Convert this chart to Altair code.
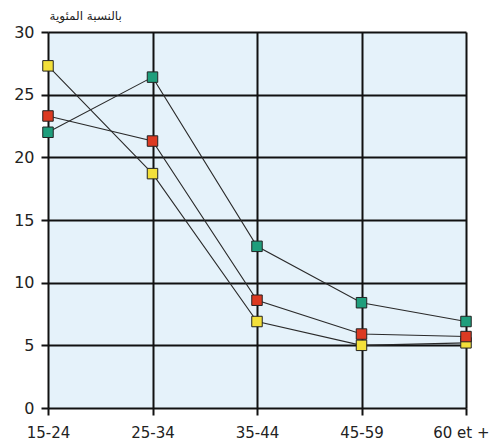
import altair as alt
import pandas as pd

categories = ["15-24", "25-34", "35-44", "45-59", "60 et +"]
yellow = [27.3, 18.7, 6.9, 5.0, 5.2]
red = [23.3, 21.3, 8.6, 5.9, 5.7]
green = [22.0, 26.4, 12.9, 8.4, 6.9]
series_names = ["A", "B", "C"]
series_colors = ["#f3e03a", "#dc3a22", "#1f9e7c"]

rows = []
for name, vals in zip(series_names, [yellow, red, green]):
    for c, v in zip(categories, vals):
        rows.append({"cat": c, "val": v, "series": name})
df = pd.DataFrame(rows)

last_test = "datum.label == '60 et +'"
x = alt.X("cat:N", sort=categories,
          scale=alt.Scale(type="point", padding=0),
          axis=alt.Axis(title=None, grid=True, gridColor="#111", gridWidth=2,
                        domain=False, ticks=True, tickSize=7, tickColor="#111", tickWidth=2,
                        labelAngle=0, labelFontSize=15, labelColor="#222",
                        labelFont="DejaVu Sans", labelPadding=10,
                        labelAlign={"condition": {"test": last_test, "value": "right"},
                                    "value": "center"},
                        labelOffset={"condition": {"test": last_test, "value": 23},
                                     "value": 0}))
y = alt.Y("val:Q", scale=alt.Scale(domain=[0, 30], nice=False),
          axis=alt.Axis(values=[0, 5, 10, 15, 20, 25, 30], grid=True, gridColor="#111",
                        gridWidth=2, domain=False, tickSize=7, tickColor="#111", tickWidth=2,
                        labelFontSize=16, labelColor="#222", labelFont="DejaVu Sans",
                        labelPadding=7,
                        title="بالنسبة المئوية", titleAngle=0, titleX=1, titleY=-10,
                        titleAlign="left", titleBaseline="bottom", titleFontSize=12,
                        titleFontWeight="normal", titleFont="DejaVu Sans", titleColor="#222"))

lines = alt.Chart(df).mark_line(color="#2a2a2a", strokeWidth=1.1).encode(
    x=x, y=y, detail="series:N")
points = alt.Chart(df).mark_point(shape="square", filled=True, size=110,
                                  stroke="#222", strokeWidth=1, opacity=1).encode(
    x=x, y=y,
    fill=alt.Fill("series:N", scale=alt.Scale(domain=series_names, range=series_colors),
                  legend=None))

chart = (lines + points).properties(
    width=418, height=376,
    autosize=alt.AutoSizeParams(type="none"),
    padding={"left": 40, "top": 24, "right": 24, "bottom": 39},
    background="white",
).configure_view(fill="#e5f2fa", stroke=None)

chart.save("out.html", embed_options={"renderer": "svg", "actions": False})
